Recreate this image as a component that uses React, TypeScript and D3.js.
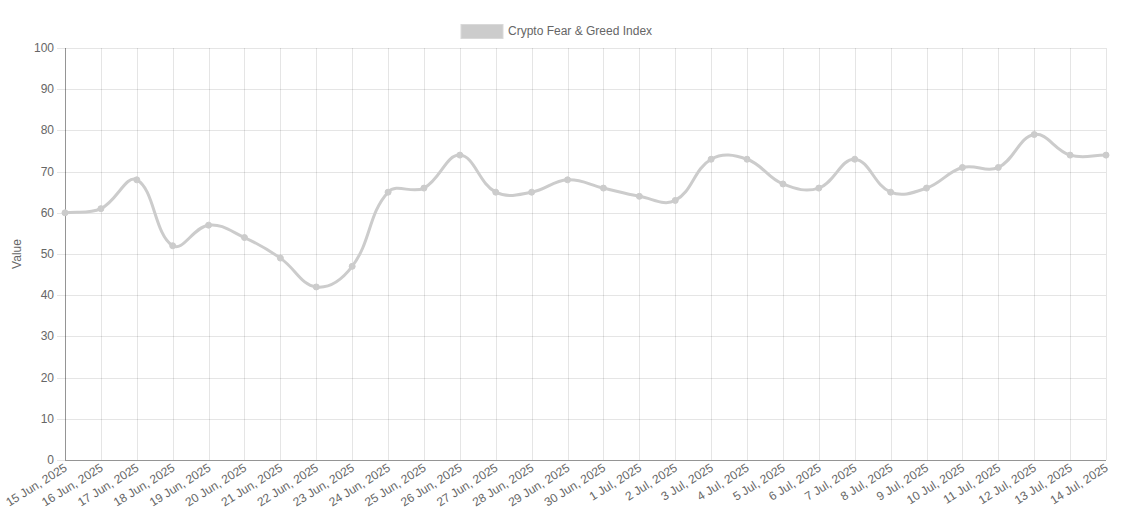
import React from 'react';
import * as d3 from 'd3';

const dates: string[] = [
  '15 Jun, 2025', '16 Jun, 2025', '17 Jun, 2025', '18 Jun, 2025', '19 Jun, 2025',
  '20 Jun, 2025', '21 Jun, 2025', '22 Jun, 2025', '23 Jun, 2025', '24 Jun, 2025',
  '25 Jun, 2025', '26 Jun, 2025', '27 Jun, 2025', '28 Jun, 2025', '29 Jun, 2025',
  '30 Jun, 2025', '1 Jul, 2025', '2 Jul, 2025', '3 Jul, 2025', '4 Jul, 2025',
  '5 Jul, 2025', '6 Jul, 2025', '7 Jul, 2025', '8 Jul, 2025', '9 Jul, 2025',
  '10 Jul, 2025', '11 Jul, 2025', '12 Jul, 2025', '13 Jul, 2025', '14 Jul, 2025',
];

const fearGreed: number[] = [
  60, 61, 68, 52, 57, 54, 49, 42, 47, 65,
  66, 74, 65, 65, 68, 66, 64, 63, 73, 73,
  67, 66, 73, 65, 66, 71, 71, 79, 74, 74,
];

const yTicks: number[] = [0, 10, 20, 30, 40, 50, 60, 70, 80, 90, 100];

const seriesName = 'Crypto Fear & Greed Index';

const W = 1123;
const H = 518;
const left = 65;
const right = 1106;
const top = 48;
const bottom = 460;
const lineColor = '#cccccc';
const font = '"Liberation Sans", Arial, Helvetica, sans-serif';

// chart.js style spline (tension 0.4)
function splinePath(pts: [number, number][], t = 0.4): string {
  const n = pts.length;
  const cps = pts.map((cur, i) => {
    const prev = pts[i - 1] || cur;
    const next = pts[i + 1] || cur;
    const d01 = Math.hypot(cur[0] - prev[0], cur[1] - prev[1]);
    const d12 = Math.hypot(next[0] - cur[0], next[1] - cur[1]);
    let s01 = d01 / (d01 + d12);
    let s12 = d12 / (d01 + d12);
    if (isNaN(s01)) s01 = 0;
    if (isNaN(s12)) s12 = 0;
    const fa = t * s01;
    const fb = t * s12;
    return {
      prev: [cur[0] - fa * (next[0] - prev[0]), cur[1] - fa * (next[1] - prev[1])],
      next: [cur[0] + fb * (next[0] - prev[0]), cur[1] + fb * (next[1] - prev[1])],
    };
  });
  const p = d3.path();
  p.moveTo(pts[0][0], pts[0][1]);
  for (let i = 1; i < n; i++) {
    const a = cps[i - 1].next;
    const b = cps[i].prev;
    p.bezierCurveTo(a[0], a[1], b[0], b[1], pts[i][0], pts[i][1]);
  }
  return p.toString();
}

export default function App() {
  const x = d3.scalePoint<string>().domain(dates).range([left, right]);
  const y = d3.scaleLinear().domain([0, 100]).range([bottom, top]);

  const pts: [number, number][] = fearGreed.map((v, i) => [x(dates[i]) as number, y(v)]);

  return (
    <div style={{ position: 'absolute', left: 0, top: 0 }}>
      <svg width={W} height={H} style={{ display: 'block', fontFamily: font }}>
        <rect width={W} height={H} fill="#fff" />
        {/* legend */}
        <rect x={461} y={24.5} width={42} height={14} fill={lineColor} stroke="#d9d9d9" />
        <text x={508} y={35} fontSize={12} fill="#666">{seriesName}</text>

        {/* horizontal grid */}
        {yTicks.map((t) => (
          <g key={t}>
            <line x1={57} x2={right} y1={Math.round(y(t)) + 0.5} y2={Math.round(y(t)) + 0.5} stroke="rgba(0,0,0,0.1)" />
            <text x={54} y={y(t) + 4} textAnchor="end" fontSize={12} fill="#666">{t}</text>
          </g>
        ))}
        {/* vertical grid */}
        {dates.map((d) => (
          <line key={d} x1={Math.round(x(d) as number) + 0.5} x2={Math.round(x(d) as number) + 0.5} y1={top} y2={bottom} stroke="rgba(0,0,0,0.1)" />
        ))}
        {/* axes */}
        <line x1={left + 0.5} x2={left + 0.5} y1={top} y2={bottom} stroke="rgba(0,0,0,0.35)" />
        <line x1={left} x2={right} y1={bottom + 0.5} y2={bottom + 0.5} stroke="rgba(0,0,0,0.35)" />

        {/* x labels */}
        {dates.map((d) => (
          <text
            key={d}
            transform={`translate(${(x(d) as number) + 3},${bottom + 10}) rotate(-32)`}
            textAnchor="end"
            fontSize={12}
            fill="#666"
          >
            {d}
          </text>
        ))}

        <text transform={`translate(21,${(top + bottom) / 2}) rotate(-90)`} textAnchor="middle" fontSize={12} fill="#666">Value</text>

        {/* series */}
        <path d={splinePath(pts)} fill="none" stroke={lineColor} strokeWidth={3} />
        {pts.map((p, i) => (
          <circle key={i} cx={p[0]} cy={p[1]} r={3} fill={lineColor} stroke={lineColor} strokeWidth={1} />
        ))}
      </svg>
    </div>
  );
}
